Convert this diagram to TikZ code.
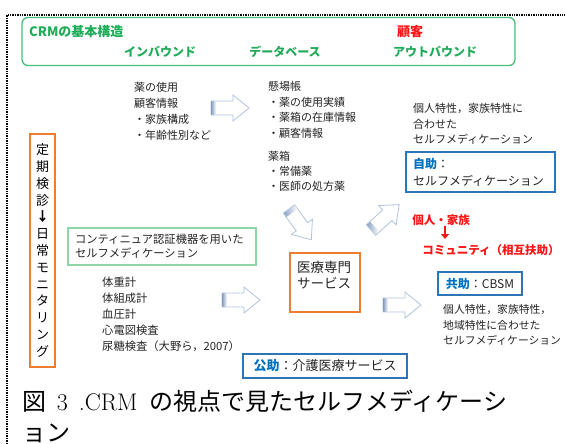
\documentclass[tikz,border=0pt]{standalone}
\usepackage{fontspec}
\newfontfamily\jp{Noto Sans CJK JP}
\usetikzlibrary{arrows.meta}
\definecolor{hdrgreen}{RGB}{30,172,88}
\definecolor{boxgreen}{RGB}{70,190,120}
\definecolor{lightgreen}{RGB}{140,215,165}
\definecolor{orng}{RGB}{237,125,49}
\definecolor{bluebox}{RGB}{46,117,182}
\definecolor{bluetxt}{RGB}{0,112,192}
\definecolor{txt}{RGB}{35,35,35}
\definecolor{arrowedge}{RGB}{178,195,220}
\definecolor{arrowtail}{RGB}{140,162,196}
\definecolor{redtxt}{RGB}{250,20,20}
\tikzset{
  every node/.style={inner sep=0pt, text=txt},
  hdrtext/.style={text=hdrgreen, font=\jp\bfseries\fontsize{12}{14}\selectfont},
  hdrbold/.style={font=\jp\bfseries\fontsize{13}{15}\selectfont},
  lst/.style={align=left, anchor=north west},
  bluefr/.style={draw=bluebox, line width=1.2pt},
  orfr/.style={draw=orng, line width=1.3pt},
  redbold/.style={text=redtxt, font=\jp\bfseries\fontsize{11.5}{14}\selectfont},
  blockarrow/.pic={
    \draw[draw=arrowedge, fill=white, line width=0.8pt]
      (0,-7) -- (22,-7) -- (22,-13) -- (38,0) -- (22,13) -- (22,7) -- (0,7) -- cycle;
    \shade[left color=arrowtail, right color=white] (0.4,-6.6) rectangle (5,6.6);
  }
}
\begin{document}
\begin{tikzpicture}[x=1pt, y=-1pt]
\useasboundingbox (0,0) rectangle (565,444);
% dotted frame
\draw[densely dotted, line width=1.4pt] (7,444) -- (7,15) -- (565,15);
% header
\node[draw=boxgreen, line width=1.3pt, rounded corners=6pt, minimum width=493, minimum height=48] (hdr) at (268.5,41.5) {};
\node[hdrbold, text=hdrgreen, anchor=west] (crm) at (29,32) {CRMの基本構造};
\node[hdrbold, text=redtxt] (kokyaku) at (410,32) {顧客};
\node[hdrtext] (inb) at (160,52) {インバウンド};
\node[hdrtext] (db) at (285,52) {データベース};
\node[hdrtext] (outb) at (435,52) {アウトバウンド};
% lists
\node[lst, font=\jp\fontsize{11}{16}\selectfont] (use) at (134,82.5) {薬の使用\\顧客情報\\・家族構成\\・年齢性別など};
\node[lst, font=\jp\fontsize{11}{15.5}\selectfont] (kake) at (268,81.5) {懸場帳\\・薬の使用実績\\・薬箱の在庫情報\\・顧客情報};
\node[lst, font=\jp\fontsize{11}{15}\selectfont] (kusuri) at (268,151.5) {薬箱\\・常備薬\\・医師の処方薬};
\node[lst, font=\jp\fontsize{11}{15.5}\selectfont] (indiv) at (413,103.5) {個人特性，家族特性に\\合わせた\\セルフメディケーション};
% self help box
\node[bluefr, minimum width=149, minimum height=40, text width=135, align=left, font=\jp\fontsize{12}{17}\selectfont] (jijo) at (480.5,172) {\textcolor{bluetxt}{\bfseries 自助}：\\セルフメディケーション};
% red
\node[redbold] (kojin) at (441,220) {個人・家族};
\node[redbold] (comm) at (491,250) {コミュニティ（相互扶助）};
\coordinate (redend) at (445,239);
\draw[redtxt, line width=1.8pt, -{Triangle[length=5pt,width=8pt]}] (kojin.south -| redend) -- (redend);
% medical service
\node[orfr, minimum width=70, minimum height=59, text width=56, align=left, font=\jp\fontsize{13.5}{15.5}\selectfont] (iryo) at (325,282.5) {医療専門\\サービス\\\mbox{}};
% mutual help
\node[bluefr, minimum width=84, minimum height=23, font=\jp\fontsize{12}{14}\selectfont] (kyojo) at (480,283.5) {\textcolor{bluetxt}{\bfseries 共助}：CBSM};
\node[lst, font=\jp\fontsize{10.8}{15.5}\selectfont] (cbsmtxt) at (443,304.5) {個人特性，家族特性，\\地域特性に合わせた\\セルフメディケーション};
% public help
\node[bluefr, minimum width=164, minimum height=24, font=\jp\fontsize{13}{15}\selectfont] (kojo) at (325,366) {\textcolor{bluetxt}{\bfseries 公助}：介護医療サービス};
% continua
\node[draw=lightgreen, line width=1.2pt, minimum width=188, minimum height=37, text width=174, align=left, font=\jp\fontsize{11.3}{14}\selectfont] (conti) at (162,246.5) {コンティニュア認証機器を用いた\\セルフメディケーション};
\node[lst, font=\jp\fontsize{11.3}{16}\selectfont] (mon) at (102,276.4) {体重計\\体組成計\\血圧計\\心電図検査\\尿糖検査（大野ら，2007）};
% vertical box
\node[orfr, minimum width=25, minimum height=233, align=center, text=black, font=\jp\fontsize{13}{16.8}\selectfont] (vert) at (42.5,250.5) {定\\期\\検\\診\\{\bfseries ↓}\\日\\常\\モ\\ニ\\タ\\リ\\ン\\グ};
% block arrows
\pic at (211,108) {blockarrow};
\pic[rotate=-54] at (289,209) {blockarrow};
\pic[rotate=42] at (371,230) {blockarrow};
\pic at (222,300) {blockarrow};
\pic at (383,305) {blockarrow};
% caption
\node[lst, text=black, font=\fontsize{24}{31}\selectfont] (cap) at (22,390) {{\jp 図}\hspace{0.45em}3\hspace{0.45em}.CRM\hspace{0.5em}{\jp の視点で見たセルフメディケーシ}\\{\jp ョン}};
\end{tikzpicture}
\end{document}
